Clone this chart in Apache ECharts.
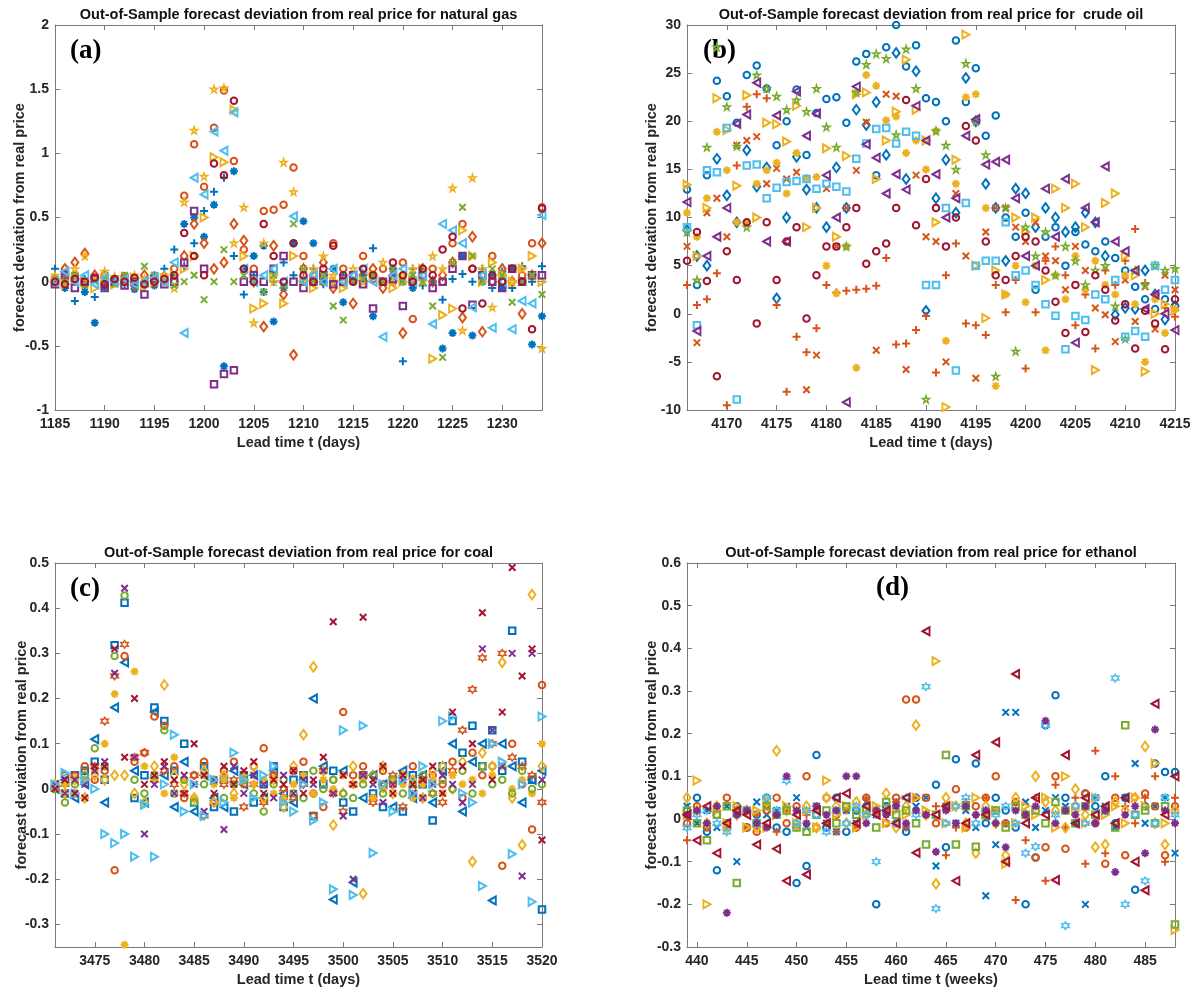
<!DOCTYPE html>
<html>
<head>
<meta charset="utf-8">
<script src="https://cdn.jsdelivr.net/npm/echarts@6/dist/echarts.min.js"></script>
<style>
html, body { margin: 0; padding: 0; background: #ffffff; }
#chart { width: 1197px; height: 992px; }
</style>
</head>
<body>
<div id="chart"></div>
<script>
// ---------- lead times (x categories) ----------
const gasDays = Array.from({ length: 50 }, (_, i) => 1185 + i);
const oilDays = Array.from({ length: 50 }, (_, i) => 4166 + i);
const coalDays = Array.from({ length: 50 }, (_, i) => 3471 + i);
const ethDays = Array.from({ length: 50 }, (_, i) => 439 + i);

// ---------- tick labels ----------
const gasXTicks = [1185, 1190, 1195, 1200, 1205, 1210, 1215, 1220, 1225, 1230];
const gasYTicks = [-1, -0.5, 0, 0.5, 1, 1.5, 2];
const oilXTicks = [4170, 4175, 4180, 4185, 4190, 4195, 4200, 4205, 4210, 4215];
const oilYTicks = [-10, -5, 0, 5, 10, 15, 20, 25, 30];
const coalXTicks = [3475, 3480, 3485, 3490, 3495, 3500, 3505, 3510, 3515, 3520];
const coalYTicks = [-0.3, -0.2, -0.1, 0, 0.1, 0.2, 0.3, 0.4, 0.5];
const ethXTicks = [440, 445, 450, 455, 460, 465, 470, 475, 480, 485];
const ethYTicks = [-0.3, -0.2, -0.1, 0, 0.1, 0.2, 0.3, 0.4, 0.5, 0.6];

// ---------- natural gas deviations (1185 .. 1234) ----------
const gasBluePlus = [0.1,0.06,-0.15,0.02,-0.12,0.0,0.03,-0.02,0.0,-0.04, 0.05,0.1,0.25,0.12,0.3,0.55,0.7,0.81,0.2,-0.1, 0.05,-0.08,0.0,0.15,0.05,0.02,0.1,-0.02,0.0,0.05, 0.0,0.02,0.26,0.0,0.05,-0.62,0.1,-0.03,0.0,-0.14, 0.02,0.06,0.0,0.1,-0.05,0.08,-0.05,0.12,0.0,0.12];
const gasBlueStar = [0.0,-0.05,0.03,-0.08,-0.32,-0.04,0.0,0.02,-0.06,0.0, -0.03,0.0,0.05,0.45,0.5,0.35,0.6,-0.66,0.86,0.1, 0.2,0.28,-0.31,-0.05,0.3,0.47,0.3,0.0,0.1,-0.16, 0.0,0.05,-0.27,0.0,0.1,0.0,-0.05,0.1,0.0,-0.52, -0.4,0.2,-0.42,0.0,0.05,-0.05,0.1,0.0,-0.49,-0.27];
const gasOrangeCircle = [0.0,0.02,0.05,-0.02,0.03,0.05,0.0,0.04,0.02,-0.02, 0.0,0.04,0.1,0.67,1.07,0.74,1.2,1.49,0.94,0.25, 0.1,0.55,0.56,0.6,0.89,0.2,0.05,0.0,0.3,0.1, 0.05,0.2,0.02,0.1,0.0,0.15,-0.29,0.05,0.1,0.0, 0.3,0.45,0.1,0.05,0.2,0.0,0.1,0.05,0.3,0.58];
const gasOrangeDiamond = [0.02,0.1,0.15,0.22,0.05,0.0,0.0,0.03,-0.03,0.05, 0.0,0.02,0.0,0.2,0.45,0.3,0.1,0.15,0.45,0.32, 0.0,-0.35,0.28,-0.1,-0.57,0.1,0.0,0.15,-0.05,0.0, -0.17,0.05,0.1,-0.05,0.05,-0.4,0.02,0.1,0.0,0.05, 0.15,-0.28,0.35,-0.39,0.0,0.1,0.0,-0.25,0.05,0.3];
const gasYellowStar = [0.05,0.0,0.1,0.2,0.02,0.08,0.04,0.0,0.05,0.02, 0.0,0.05,-0.05,0.62,1.18,0.82,1.5,1.51,0.3,0.58, -0.32,0.3,0.0,0.93,0.7,0.0,0.1,0.2,0.05,0.0, 0.1,0.0,0.05,0.15,0.0,0.05,0.1,0.0,0.2,0.1, 0.73,-0.38,0.81,0.1,-0.2,0.05,0.0,0.1,0.05,-0.52];
const gasYellowTri = [0.0,-0.02,0.02,0.0,-0.05,0.02,-0.02,0.0,0.03,-0.04, 0.0,0.02,0.05,0.1,0.2,0.5,0.97,0.93,1.34,0.2, -0.21,-0.17,0.05,-0.17,0.2,0.0,-0.05,0.05,0.0,-0.05, 0.02,0.0,0.05,0.0,-0.05,0.0,0.02,0.1,-0.6,-0.26, -0.21,0.4,0.2,0.0,0.15,0.05,0.0,0.1,0.2,0.0];
const gasPurpleSquare = [-0.02,0.05,-0.05,0.0,0.02,-0.05,0.0,-0.03,0.0,-0.1, 0.02,-0.02,0.0,0.15,0.55,0.1,-0.8,-0.72,-0.69,0.0, 0.05,0.0,0.1,0.2,0.0,-0.05,0.0,0.05,-0.02,0.0, 0.05,-0.02,-0.21,0.0,0.02,-0.19,0.0,0.05,-0.05,0.0, 0.1,0.2,-0.18,0.05,0.0,-0.05,0.1,0.0,0.05,0.05];
const gasGreenCross = [0.02,0.0,0.05,-0.03,0.0,0.02,-0.02,0.05,0.0,0.12, 0.05,0.0,-0.03,0.0,0.05,-0.14,0.0,0.25,0.0,0.05, 0.0,-0.08,0.05,-0.03,0.45,0.1,0.0,0.05,-0.19,-0.3, 0.0,0.02,0.05,0.0,0.1,0.0,0.05,0.0,-0.19,-0.59, 0.15,0.58,0.2,0.0,0.1,0.05,-0.16,0.0,0.05,-0.1];
const gasCyanTri = [0.0,0.08,0.0,0.05,-0.02,0.03,0.0,0.02,-0.02,0.0, 0.03,0.0,0.15,-0.4,0.81,0.68,1.17,1.02,1.32,0.1, 0.0,0.05,0.1,0.0,0.51,0.0,0.05,0.0,0.1,0.0, 0.05,0.1,0.0,-0.43,0.05,0.1,0.0,0.05,-0.33,0.45, 0.4,0.3,-0.2,0.05,-0.36,0.0,-0.37,-0.15,-0.17,0.52];
const gasMaroonCircle = [0.0,-0.02,0.02,0.0,0.03,-0.02,0.02,0.0,0.03,-0.02, 0.0,0.02,0.05,0.38,0.2,0.05,0.92,0.83,1.41,0.1, 0.0,0.45,0.2,0.0,0.3,0.05,0.0,0.1,0.28,0.05, 0.0,0.1,0.05,0.0,0.15,0.05,0.0,0.1,0.05,0.25, 0.35,-0.21,0.1,-0.17,0.05,0.0,0.1,0.0,-0.37,0.57];

// ---------- crude oil deviations (4166 .. 4215) ----------
const oilBlueCircle = [12.9,3.0,14.4,24.2,22.6,19.85,24.8,25.8,23.4,17.5, 20.0,23.3,16.5,20.85,22.3,22.5,19.85,26.2,27.0,14.4, 27.7,30.0,25.7,27.9,22.4,22.0,20.0,28.4,22.0,25.5, 18.5,20.6,10.0,8.0,10.5,2.5,8.0,9.0,5.0,8.5, 7.2,6.5,7.5,5.8,4.5,2.8,1.5,0.5,1.5,0.8];
const oilBlueDiamond = [8.7,6.0,5.0,16.1,12.3,9.5,17.0,13.2,15.2,1.6, 10.0,16.3,12.9,11.0,9.0,15.2,11.0,21.2,19.6,22.0, 16.5,27.1,14.0,25.2,0.3,12.0,16.0,10.5,24.5,20.0, 13.5,11.0,5.5,13.0,12.5,9.0,11.0,10.0,8.5,9.0, 10.5,9.5,6.0,-0.1,0.6,0.5,4.5,2.0,-0.6,0.8];
const oilOrangePlus = [3.0,0.9,1.5,4.2,-9.5,15.4,21.5,22.8,22.4,0.9, -8.1,-2.4,-4.0,-1.5,3.0,2.2,2.4,2.5,2.6,2.9, 5.8,-3.2,-3.1,-1.7,-0.23,-6.1,4.0,7.3,-1.0,-1.2, -2.2,3.0,0.15,3.5,-5.7,0.15,5.5,7.0,4.0,-1.2, 2.0,-3.6,4.5,3.0,5.5,8.8,3.2,2.0,0.6,-0.3];
const oilOrangeCross = [7.0,-3.0,10.5,12.0,8.0,17.5,18.0,18.4,13.5,15.1, 14.0,14.7,-7.9,-4.3,13.0,7.0,11.0,14.9,19.9,-3.8, 22.8,22.6,-5.8,14.4,8.0,7.5,-5.0,12.5,6.0,-6.7, 8.5,11.0,11.0,9.0,7.5,9.5,6.0,5.5,2.5,7.0, 4.5,0.6,-0.1,-2.9,3.5,-0.8,2.8,-1.6,4.0,2.5];
const oilYellowTri = [13.4,6.0,11.0,22.4,19.1,13.3,22.7,10.0,19.85,19.7, 17.9,21.6,9.0,11.0,17.2,8.0,16.4,22.8,23.0,14.0, 18.0,21.0,26.4,21.2,18.0,9.5,-9.7,16.0,29.0,5.0, -0.45,4.5,2.0,10.0,8.5,10.0,3.5,13.0,11.0,13.5, 9.0,-5.85,11.5,12.5,6.0,4.0,-6.0,0.0,1.0,0.35];
const oilYellowStar = [10.5,8.0,12.0,18.9,14.9,9.5,9.5,13.5,14.9,15.7, 12.5,16.7,14.1,14.2,5.0,2.1,7.0,-5.6,24.8,23.7, 20.1,20.5,16.7,18.0,15.0,19.0,-2.8,13.5,22.5,22.8, 11.0,-7.5,2.0,5.0,1.2,5.0,-3.8,4.0,1.5,6.0, 2.5,5.5,3.0,2.0,4.0,1.0,-5.0,1.5,-2.0,0.5];
const oilGreenStar = [8.5,3.5,17.3,27.7,21.5,17.4,9.0,24.8,23.4,22.6, 21.2,22.2,21.0,23.4,19.4,17.3,7.0,23.0,25.9,27.0, 26.5,18.6,27.5,23.4,-8.9,19.0,17.5,15.0,26.0,20.0, 16.5,-6.5,11.0,-3.9,9.0,6.0,8.5,4.0,7.0,5.5, 3.0,4.5,5.0,0.8,-2.6,4.5,3.0,5.0,4.5,4.7];
const oilCyanSquare = [9.0,-1.2,14.9,14.7,19.3,-8.9,15.4,15.5,12.0,13.1, 13.7,13.8,14.0,13.0,13.5,13.2,12.7,16.1,17.7,19.2, 19.3,17.7,18.9,18.5,3.0,3.0,11.0,-5.9,11.5,5.0, 5.5,5.5,9.5,4.0,4.5,3.0,1.0,-0.2,-3.7,-0.23, -0.65,2.0,1.5,3.5,-2.4,-1.8,-2.4,5.0,2.5,3.5];
const oilPurpleTri = [11.6,-1.8,6.0,8.0,11.0,19.75,20.7,24.0,7.5,20.6, 7.5,23.1,18.5,20.8,14.4,10.0,-9.2,23.6,17.6,16.2, 12.5,14.5,12.9,21.6,18.0,14.5,10.0,12.0,18.5,20.2, 15.5,15.8,16.0,12.0,6.0,5.0,13.0,8.0,14.0,-3.0, 11.0,9.5,15.3,7.5,6.5,4.5,0.5,2.0,0.0,-1.7];
const oilMaroonCircle = [5.5,8.5,3.4,-6.5,6.5,3.5,9.5,-1.0,9.5,3.5, 7.5,9.0,-0.5,4.0,7.0,7.0,9.0,11.0,5.2,6.5, 7.3,11.0,22.2,9.2,14.0,11.0,7.0,10.0,19.5,18.0, 7.5,4.0,3.5,6.0,8.0,7.5,4.5,1.25,-2.0,3.0, -1.9,4.0,2.5,-0.7,1.0,-3.6,0.3,-1.0,-3.7,1.5];

// ---------- coal deviations (3471 .. 3520) ----------
const coalBlueSquare = [0.01,-0.01,0.03,0.04,0.06,0.02,0.318,0.412,-0.02,0.03, 0.18,0.15,0.04,0.1,-0.03,0.05,-0.04,0.02,-0.05,0.03, -0.03,0.01,0.05,-0.04,0.02,0.03,-0.06,0.01,0.04,-0.03, -0.05,0.03,-0.01,-0.04,0.02,-0.05,0.03,0.01,-0.07,0.05, 0.15,0.08,0.14,0.05,0.13,0.04,0.35,0.06,0.02,-0.267];
const coalBlueTri = [0.0,0.02,-0.02,0.01,0.11,-0.03,0.18,0.28,0.04,-0.03, 0.17,0.03,-0.04,0.06,-0.05,0.03,-0.02,-0.04,0.04,0.01, 0.03,-0.02,0.04,-0.01,-0.03,0.02,0.2,0.05,-0.245,0.04, -0.207,-0.02,0.03,0.01,-0.04,0.04,-0.02,0.03,-0.03,0.04, 0.1,-0.05,0.06,0.1,-0.247,0.1,0.05,-0.03,0.02,0.04];
const coalOrangeCircle = [0.01,0.03,-0.01,0.05,0.02,0.04,-0.18,0.294,0.06,0.08, 0.16,0.14,0.05,-0.02,0.03,0.06,-0.03,0.04,0.06,0.01, 0.05,0.09,0.03,-0.02,0.04,0.06,-0.01,-0.04,0.02,0.17, 0.03,0.05,-0.02,0.04,0.01,0.03,0.05,-0.02,0.03,0.01, 0.06,-0.02,0.08,0.03,0.05,-0.17,0.1,0.01,-0.09,0.23];
const coalOrangeHex = [0.0,0.01,0.03,0.02,0.05,0.15,0.25,0.32,0.07,0.08, 0.02,0.04,0.01,-0.01,0.03,-0.06,-0.03,0.01,0.02,-0.04, 0.01,-0.03,0.03,0.0,-0.02,0.01,-0.06,0.04,-0.01,-0.05, 0.01,0.03,-0.03,0.01,0.03,-0.04,0.0,0.02,-0.01,-0.03, 0.04,0.13,0.22,0.29,0.1,0.3,0.07,0.05,0.03,-0.03];
const coalYellowDiamond = [0.01,-0.01,0.02,-0.02,0.03,0.02,0.03,0.03,-0.01,-0.03, 0.05,0.23,0.03,0.01,-0.02,0.04,-0.03,0.03,-0.01,0.02, 0.05,-0.02,0.02,-0.04,0.05,0.12,0.27,0.04,-0.08,-0.01, 0.05,-0.232,0.03,0.05,-0.01,0.03,0.02,-0.02,0.04,0.05, 0.0,0.06,-0.161,0.08,0.05,0.28,-0.02,-0.124,0.43,0.05];
const coalYellowStar = [0.0,0.01,-0.01,0.02,0.04,0.1,0.21,-0.345,0.26,0.05, 0.02,-0.01,0.07,0.02,-0.02,0.03,0.01,0.02,-0.02,0.03, 0.01,0.02,-0.01,-0.02,0.01,0.03,-0.01,0.02,0.0,0.03, 0.01,0.02,-0.02,0.0,0.02,0.01,-0.02,0.01,0.02,-0.01, 0.03,0.01,0.02,-0.01,0.03,0.05,0.0,0.02,-0.01,0.1];
const coalGreenCircle = [0.0,-0.03,0.01,0.03,0.09,0.05,0.294,0.428,0.02,-0.01, 0.03,0.13,-0.01,0.02,-0.03,0.01,0.02,-0.02,0.01,0.02, -0.01,-0.05,0.01,0.02,-0.01,-0.02,0.04,0.0,0.02,-0.01, -0.02,0.01,0.03,-0.01,0.02,-0.01,0.01,0.03,-0.01,0.02, 0.0,0.04,-0.01,0.05,0.01,0.02,-0.01,0.04,0.0,0.01];
const coalPurpleCross = [0.01,-0.01,0.02,0.01,0.04,0.06,0.256,0.444,0.07,-0.1, 0.01,0.05,-0.01,0.03,0.01,-0.05,0.02,-0.09,0.05,-0.01, 0.03,0.01,-0.02,0.03,-0.01,0.02,0.01,0.04,-0.01,-0.06, -0.2,0.03,0.01,-0.03,0.01,0.02,-0.01,-0.02,0.01,0.03, 0.01,-0.03,0.01,0.31,0.13,0.05,0.3,-0.193,0.3,0.02];
const coalCyanTri = [0.01,0.035,-0.01,0.02,0.0,-0.1,-0.12,-0.1,-0.15,-0.035, -0.15,0.01,0.12,-0.05,0.01,-0.06,0.02,-0.03,0.08,0.02, -0.02,0.03,0.05,-0.03,-0.05,0.01,-0.07,-0.03,-0.222,0.13, -0.235,0.14,-0.142,0.01,-0.05,0.02,-0.01,0.05,0.01,0.15, 0.16,-0.01,-0.03,-0.215,0.1,0.06,-0.144,0.01,-0.25,0.16];
const coalMaroonCross = [0.0,0.02,-0.01,-0.02,0.05,0.05,0.31,0.07,0.2,0.01, 0.03,0.06,0.02,-0.01,0.1,0.03,-0.01,0.05,0.01,0.04, 0.06,-0.01,0.02,0.01,0.04,-0.01,0.02,0.07,0.37,0.03, 0.01,0.38,0.02,0.05,-0.01,0.03,0.01,0.02,0.05,-0.01, 0.17,0.05,0.1,0.39,0.02,0.17,0.49,0.25,0.31,-0.113];

// ---------- ethanol deviations (439 .. 488) ----------
const ethBlueCircle = [0.02,0.05,-0.03,-0.12,-0.01,0.03,-0.02,0.01,0.05,-0.02, -0.03,-0.15,-0.11,0.15,-0.02,0.05,-0.03,0.02,0.01,-0.2, 0.03,-0.01,-0.03,0.05,0.01,0.08,-0.066,0.14,0.03,0.13, -0.01,0.05,0.02,-0.02,-0.2,-0.09,0.22,0.29,0.05,-0.01, 0.06,0.03,0.1,-0.01,0.05,-0.166,0.03,0.13,0.11,0.11];
const ethBlueCross = [0.03,-0.01,0.02,-0.02,0.03,-0.1,-0.02,0.04,0.01,0.02, 0.03,0.05,-0.02,0.03,-0.01,-0.03,0.02,-0.01,0.04,0.01, 0.02,0.04,-0.02,0.03,0.05,-0.11,0.03,-0.01,0.02,-0.02, -0.18,-0.06,0.25,0.25,0.04,-0.02,0.02,0.05,0.03,-0.01, -0.2,0.05,0.03,-0.02,0.05,0.13,-0.01,0.03,0.05,-0.08];
const ethOrangePlus = [-0.05,0.02,-0.01,0.03,-0.02,0.02,-0.02,0.01,0.03,-0.03, 0.02,-0.02,0.01,0.03,-0.01,-0.03,0.02,-0.02,0.05,0.01, 0.02,0.04,-0.02,0.05,0.01,0.03,-0.085,-0.02,0.04,0.01, 0.05,0.02,-0.01,-0.19,-0.05,0.05,-0.145,0.08,-0.02,0.05, -0.105,0.16,-0.08,0.1,0.03,-0.01,0.05,0.1,-0.1,0.05];
const ethOrangeCircle = [-0.01,0.03,-0.02,0.01,0.05,0.02,-0.02,-0.03,0.02,0.05, -0.01,0.03,0.1,-0.02,0.05,0.01,0.03,-0.02,0.05,0.02, -0.01,0.05,0.28,0.28,0.05,-0.01,0.03,0.07,-0.02,0.03, 0.05,0.1,-0.01,0.04,0.01,-0.09,-0.066,0.1,-0.07,0.03, 0.06,-0.01,-0.105,0.05,-0.085,0.01,0.06,0.03,-0.085,0.03];
const ethYellowDiamond = [0.05,0.02,-0.01,0.03,-0.02,0.01,0.02,-0.02,0.04,0.16, 0.02,-0.01,0.03,-0.02,0.05,0.03,-0.01,0.04,0.01,0.02, 0.06,-0.02,0.03,0.22,0.01,-0.152,0.05,0.03,-0.01,-0.08, 0.03,-0.01,-0.085,0.05,0.01,0.1,0.04,0.02,-0.02,0.07, 0.01,-0.066,-0.06,0.04,0.02,0.05,0.17,-0.01,-0.06,0.02];
const ethYellowTri = [0.01,0.09,-0.2,0.02,-0.01,0.03,-0.02,0.02,-0.02,0.01, 0.03,-0.01,0.02,-0.02,0.09,0.01,0.03,-0.02,0.01,0.03, -0.01,0.02,0.01,0.05,0.02,0.37,-0.01,0.03,-0.02,0.05, 0.01,0.02,-0.105,-0.01,0.03,0.01,0.05,-0.02,0.1,0.02, -0.01,0.05,0.01,0.03,-0.01,0.05,0.03,0.13,-0.01,-0.26];
const ethGreenSquare = [0.02,-0.01,-0.05,0.01,0.03,-0.15,0.02,-0.01,0.03,0.01, 0.02,-0.02,-0.03,0.01,0.02,-0.01,0.03,0.01,0.02,-0.02, 0.04,0.01,0.02,-0.01,-0.06,0.01,0.15,-0.06,0.03,-0.065, 0.01,0.02,-0.02,0.03,0.01,0.02,-0.01,0.04,0.02,-0.01, 0.03,0.01,0.02,-0.02,0.22,0.01,0.02,-0.01,0.03,-0.247];
const ethCyanHex = [-0.02,0.01,0.02,-0.01,-0.03,0.01,0.02,-0.01,0.05,0.02, 0.09,-0.01,0.02,0.01,-0.03,0.02,-0.01,0.03,0.01,-0.1, 0.02,-0.01,0.05,0.01,0.31,-0.21,-0.01,0.03,0.05,-0.01, 0.02,0.01,0.03,-0.01,-0.08,-0.065,0.22,0.01,-0.25,0.03, -0.01,0.05,0.02,0.33,-0.2,0.01,-0.145,-0.01,0.05,0.01];
const ethPurpleStar = [0.01,0.02,-0.01,0.03,-0.22,0.01,0.02,-0.01,-0.02,0.01, 0.1,0.02,-0.01,0.03,0.01,0.02,0.1,0.1,-0.01,0.02, 0.01,0.03,-0.01,0.02,0.01,-0.077,0.02,-0.01,0.03,0.01, 0.02,-0.01,-0.066,0.02,0.01,0.03,0.23,-0.01,0.02,0.01, 0.03,-0.01,0.02,-0.124,0.01,0.03,-0.08,0.21,0.02,-0.01];
const ethMaroonTri = [0.01,-0.05,0.03,-0.08,-0.01,0.02,0.01,-0.06,-0.01,-0.07, -0.145,0.01,-0.13,0.02,-0.01,0.05,0.06,-0.01,0.03,0.01, 0.02,-0.01,0.05,-0.079,0.44,0.01,0.03,-0.145,-0.01,0.15, 0.01,0.18,-0.1,0.34,-0.01,0.05,0.01,-0.143,0.15,-0.01, 0.05,0.01,0.03,-0.01,0.05,-0.1,-0.167,0.27,0.01,0.1];

// ---------- styling ----------
const COLORS = {
  blue: '#0072BD', orange: '#D95319', yellow: '#EDB120', purple: '#7E2F8E',
  green: '#77AC30', cyan: '#4DBEEE', maroon: '#A2142F'
};

// symbol shape, size and stroke width for each marker kind
const MARKERS = {
  circle:   { symbol: 'circle', size: 6.5, lw: 2 },
  square:   { symbol: 'rect', size: 6.5, lw: 2 },
  diamond:  { symbol: 'diamond', size: [7, 9.5], lw: 2 },
  plus:     { symbol: 'path://M0,5L10,5M5,0L5,10', size: 8, lw: 2 },
  cross:    { symbol: 'path://M0,0L10,10M10,0L0,10', size: 6.5, lw: 2 },
  asterisk: { symbol: 'path://M0,5L10,5M5,0L5,10M1.5,1.5L8.5,8.5M8.5,1.5L1.5,8.5', size: 8, lw: 2 },
  right:    { symbol: 'path://M0,0L9,5L0,10Z', size: [7, 8], lw: 2 },
  left:     { symbol: 'path://M9,0L0,5L9,10Z', size: [7, 8], lw: 2 },
  penta:    { symbol: 'path://M5,0L6.12,3.46L9.76,3.45L6.81,5.59L7.94,9.05L5,6.9L2.06,9.05L3.19,5.59L0.24,3.45L3.88,3.46Z', size: 7, lw: 1.5 },
  hexa:     { symbol: 'path://M5,0L6.44,2.5L9.33,2.5L7.89,5L9.33,7.5L6.44,7.5L5,10L3.56,7.5L0.67,7.5L2.11,5L0.67,2.5L3.56,2.5Z', size: 7.5, lw: 1.5 }
};

const AXIS_COLOR = '#7a7a7a';
const TEXT_COLOR = '#262626';
const SANS = '"Liberation Sans", Arial, Helvetica, sans-serif';
const SERIF = '"Liberation Serif", "Times New Roman", serif';

const panels = [
  {
    rect: { left: 55, top: 25, width: 487, height: 385 },
    days: gasDays, xMin: 1185, xMax: 1234, xTicks: gasXTicks,
    yMin: -1, yMax: 2, yTicks: gasYTicks,
    title: 'Out-of-Sample forecast deviation from real price for natural gas',
    xName: 'Lead time t (days)', tag: '(a)', tagPos: [70, 51], yNameX: 20,
    series: [
      [gasBluePlus, 'blue', 'plus'], [gasBlueStar, 'blue', 'asterisk'],
      [gasOrangeCircle, 'orange', 'circle'], [gasOrangeDiamond, 'orange', 'diamond'],
      [gasYellowStar, 'yellow', 'penta'], [gasYellowTri, 'yellow', 'right'],
      [gasPurpleSquare, 'purple', 'square'], [gasGreenCross, 'green', 'cross'],
      [gasCyanTri, 'cyan', 'left'], [gasMaroonCircle, 'maroon', 'circle']
    ]
  },
  {
    rect: { left: 687, top: 25, width: 488, height: 385 },
    days: oilDays, xMin: 4166, xMax: 4215, xTicks: oilXTicks,
    yMin: -10, yMax: 30, yTicks: oilYTicks,
    title: 'Out-of-Sample forecast deviation from real price for  crude oil',
    xName: 'Lead time t (days)', tag: '(b)', tagPos: [703, 51], yNameX: 652,
    series: [
      [oilBlueCircle, 'blue', 'circle'], [oilBlueDiamond, 'blue', 'diamond'],
      [oilOrangePlus, 'orange', 'plus'], [oilOrangeCross, 'orange', 'cross'],
      [oilYellowTri, 'yellow', 'right'], [oilYellowStar, 'yellow', 'asterisk'],
      [oilGreenStar, 'green', 'penta'], [oilCyanSquare, 'cyan', 'square'],
      [oilPurpleTri, 'purple', 'left'], [oilMaroonCircle, 'maroon', 'circle']
    ]
  },
  {
    rect: { left: 55, top: 563, width: 487, height: 384 },
    days: coalDays, xMin: 3471, xMax: 3520, xTicks: coalXTicks,
    yMin: -0.35, yMax: 0.5, yTicks: coalYTicks,
    title: 'Out-of-Sample forecast deviation from real price for coal',
    xName: 'Lead time t (days)', tag: '(c)', tagPos: [70, 589], yNameX: 22,
    series: [
      [coalBlueSquare, 'blue', 'square'], [coalBlueTri, 'blue', 'left'],
      [coalOrangeCircle, 'orange', 'circle'], [coalOrangeHex, 'orange', 'hexa'],
      [coalYellowDiamond, 'yellow', 'diamond'], [coalYellowStar, 'yellow', 'asterisk'],
      [coalGreenCircle, 'green', 'circle'], [coalPurpleCross, 'purple', 'cross'],
      [coalCyanTri, 'cyan', 'right'], [coalMaroonCross, 'maroon', 'cross']
    ]
  },
  {
    rect: { left: 687, top: 563, width: 488, height: 384 },
    days: ethDays, xMin: 439, xMax: 488, xTicks: ethXTicks,
    yMin: -0.3, yMax: 0.6, yTicks: ethYTicks,
    title: 'Out-of-Sample forecast deviation from real price for ethanol',
    xName: 'Lead time t (weeks)', tag: '(d)', tagPos: [876, 588], yNameX: 652,
    series: [
      [ethBlueCircle, 'blue', 'circle'], [ethBlueCross, 'blue', 'cross'],
      [ethOrangePlus, 'orange', 'plus'], [ethOrangeCircle, 'orange', 'circle'],
      [ethYellowDiamond, 'yellow', 'diamond'], [ethYellowTri, 'yellow', 'right'],
      [ethGreenSquare, 'green', 'square'], [ethCyanHex, 'cyan', 'hexa'],
      [ethPurpleStar, 'purple', 'asterisk'], [ethMaroonTri, 'maroon', 'left']
    ]
  }
];

// ---------- option assembly ----------
const grid = [], xAxis = [], yAxis = [], series = [], graphic = [];

function tickLabel(show, values) {
  return {
    show: show, customValues: values, color: TEXT_COLOR, fontSize: 14, fontWeight: 'bold',
    fontFamily: SANS, margin: 7,
    formatter: (v) => String(Math.round(v * 1000) / 1000)
  };
}

panels.forEach((p, k) => {
  grid.push(Object.assign({ show: false, containLabel: false, outerBoundsMode: 'none' }, p.rect));
  const line = { show: true, onZero: false, lineStyle: { color: AXIS_COLOR, width: 1 } };
  const tick = (vals) => ({ show: true, inside: true, length: 5, customValues: vals, lineStyle: { color: AXIS_COLOR, width: 1 } });

  ['bottom', 'top'].forEach((pos) => {
    xAxis.push({
      gridIndex: k, type: 'value', position: pos, min: p.xMin, max: p.xMax,
      axisLine: line, axisTick: tick(p.xTicks), axisLabel: tickLabel(pos === 'bottom', p.xTicks),
      splitLine: { show: false }, axisPointer: { show: false }
    });
  });
  ['left', 'right'].forEach((pos) => {
    const lab = tickLabel(pos === 'left', p.yTicks);
    lab.margin = 6;
    yAxis.push({
      gridIndex: k, type: 'value', position: pos, min: p.yMin, max: p.yMax,
      axisLine: line, axisTick: tick(p.yTicks), axisLabel: lab,
      splitLine: { show: false }, axisPointer: { show: false }
    });
  });

  p.series.forEach(([vals, colorKey, markKey]) => {
    const m = MARKERS[markKey];
    series.push({
      type: 'scatter',
      xAxisIndex: 2 * k, yAxisIndex: 2 * k,
      data: p.days.map((d, i) => [d, vals[i]]),
      symbol: m.symbol, symbolSize: m.size, symbolKeepAspect: false,
      clip: false, silent: true,
      itemStyle: { color: 'transparent', borderColor: COLORS[colorKey], borderWidth: m.lw, opacity: 1 },
      emphasis: { disabled: true }
    });
  });

  const cx = p.rect.left + p.rect.width / 2;
  const cy = p.rect.top + p.rect.height / 2;
  graphic.push({
    type: 'text', x: cx, y: p.rect.top - 10, silent: true,
    style: { text: p.title, fill: '#111', font: 'bold 14.5px ' + SANS, textAlign: 'center', textVerticalAlign: 'middle' }
  });
  graphic.push({
    type: 'text', x: cx, y: p.rect.top + p.rect.height + 33, silent: true,
    style: { text: p.xName, fill: TEXT_COLOR, font: 'bold 14.5px ' + SANS, textAlign: 'center', textVerticalAlign: 'middle' }
  });
  graphic.push({
    type: 'text', x: p.yNameX, y: cy, rotation: Math.PI / 2, silent: true,
    style: { text: 'forecast deviation from real price', fill: TEXT_COLOR, font: 'bold 14.5px ' + SANS, textAlign: 'center', textVerticalAlign: 'middle' }
  });
  graphic.push({
    type: 'text', x: p.tagPos[0], y: p.tagPos[1], silent: true,
    style: { text: p.tag, fill: '#000', font: 'bold 27px ' + SERIF, textAlign: 'left', textVerticalAlign: 'middle' }
  });
});

const chart = echarts.init(document.getElementById('chart'), null, { renderer: 'canvas' });
chart.setOption({
  backgroundColor: '#ffffff',
  animation: false,
  grid: grid,
  xAxis: xAxis,
  yAxis: yAxis,
  series: series,
  graphic: graphic
});
</script>
</body>
</html>
